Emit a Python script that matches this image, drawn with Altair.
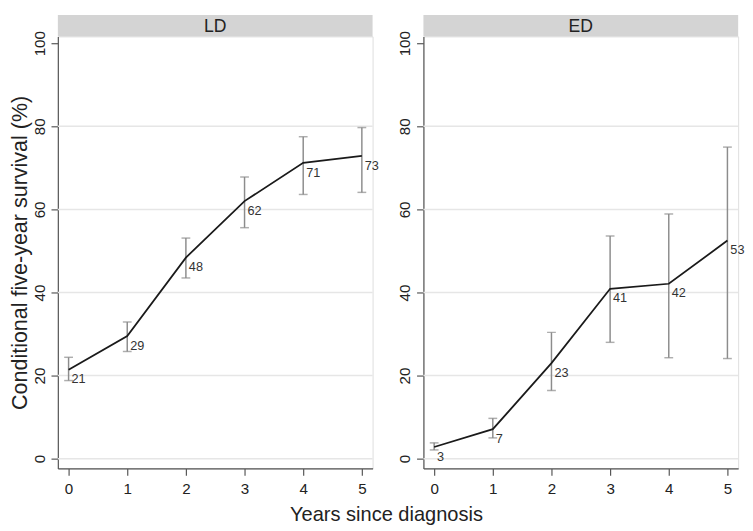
import altair as alt
import pandas as pd

years = [0, 1, 2, 3, 4, 5]

ld_est = [21.4, 29.5, 48.4, 62.0, 71.2, 72.9]
ld_lo = [18.8, 25.8, 43.5, 55.6, 63.6, 64.1]
ld_hi = [24.4, 32.9, 53.1, 67.8, 77.5, 79.7]
ld_lab = ["21", "29", "48", "62", "71", "73"]

ed_est = [2.8, 7.1, 23.0, 40.9, 42.1, 52.5]
ed_lo = [2.1, 5.0, 16.4, 28.0, 24.3, 24.1]
ed_hi = [3.8, 9.7, 30.4, 53.6, 58.9, 75.0]
ed_lab = ["3", "7", "23", "41", "42", "53"]

grid_vals = [0, 20, 40, 60, 80]
y_ticks = [0, 20, 40, 60, 80, 100]
panels = ["LD", "ED"]

FONT = "Liberation Sans"
W, H, HEAD = 322, 442, 22

xscale = alt.Scale(domain=[-0.183, 5.183], nice=False, zero=False)
yscale = alt.Scale(domain=[-2.35, 101.65], nice=False, zero=False)


def make_panel(est, lo, hi, lab, name, ytitle):
    df = pd.DataFrame({"year": years, "est": est, "lo": lo, "hi": hi, "lab": lab})
    gdf = pd.DataFrame({"est": grid_vals})
    hdf = pd.DataFrame({"name": [name]})

    xaxis = alt.Axis(values=years, title=None, grid=False, domainColor="#555555",
                     domainWidth=1.2, tickColor="#555555", tickSize=7, tickWidth=1.2,
                     labelFontSize=15.5, labelColor="#222222", labelFont=FONT,
                     labelPadding=7, labelAngle=0)
    yaxis = alt.Axis(values=y_ticks, title=ytitle if ytitle else "", grid=False,
                     domainColor="#555555", domainWidth=1.2, tickColor="#555555",
                     tickSize=7, tickWidth=1.2, labelFontSize=15.5, labelColor="#222222",
                     labelFont=FONT, labelAngle=270, labelPadding=4,
                     titleFontSize=22, titleFont=FONT, titleFontWeight="normal",
                     titleColor="#222222", titlePadding=1)

    def X(f="year"):
        return alt.X(f"{f}:Q", scale=xscale, axis=xaxis)

    def Y(f):
        return alt.Y(f"{f}:Q", scale=yscale, axis=yaxis)

    grid = alt.Chart(gdf).mark_rule(color="#e6e6e6", strokeWidth=1.5).encode(
        y=Y("est"), x=alt.value(0), x2=alt.value(W))
    bars = alt.Chart(df).mark_rule(color="#8c8c8c", strokeWidth=1.5).encode(
        x=X(), y=Y("lo"), y2="hi:Q")
    cap_lo = alt.Chart(df).mark_tick(color="#8c8c8c", size=9, thickness=1.5,
                                     orient="horizontal").encode(x=X(), y=Y("lo"))
    cap_hi = alt.Chart(df).mark_tick(color="#8c8c8c", size=9, thickness=1.5,
                                     orient="horizontal").encode(x=X(), y=Y("hi"))
    line = alt.Chart(df).mark_line(color="#1a1a1a", strokeWidth=1.8).encode(
        x=X(), y=Y("est"))
    labels = alt.Chart(df).mark_text(align="left", baseline="middle", dx=3, dy=10,
                                     fontSize=13, font=FONT, color="#333333").encode(
        x=X(), y=Y("est"), text="lab:N")
    head = alt.Chart(hdf).mark_rect(color="#d4d4d4").encode(
        x=alt.value(0), x2=alt.value(W), y=alt.value(-HEAD), y2=alt.value(0))
    head_txt = alt.Chart(hdf).mark_text(fontSize=18, font=FONT, color="#222222",
                                        baseline="middle").encode(
        x=alt.value(W / 2), y=alt.value(-HEAD / 2 + 1), text="name:N")

    return alt.layer(grid, bars, cap_lo, cap_hi, line, labels, head, head_txt).properties(
        width=W, height=H)


left = make_panel(ld_est, ld_lo, ld_hi, ld_lab, panels[0],
                  "Conditional five-year survival (%)")
right = make_panel(ed_est, ed_lo, ed_hi, ed_lab, panels[1], None)

chart = alt.hconcat(left, right, spacing=18).properties(
    padding={"left": 0, "top": 0, "right": 0, "bottom": 0},
    title=alt.TitleParams("Years since diagnosis", orient="bottom", anchor="middle",
                          fontSize=20.5, font=FONT, fontWeight="normal",
                          color="#222222", offset=8, dx=10),
).configure_view(stroke=None).configure(background="white")

chart.save("out.html", embed_options={"renderer": "svg", "actions": False})
